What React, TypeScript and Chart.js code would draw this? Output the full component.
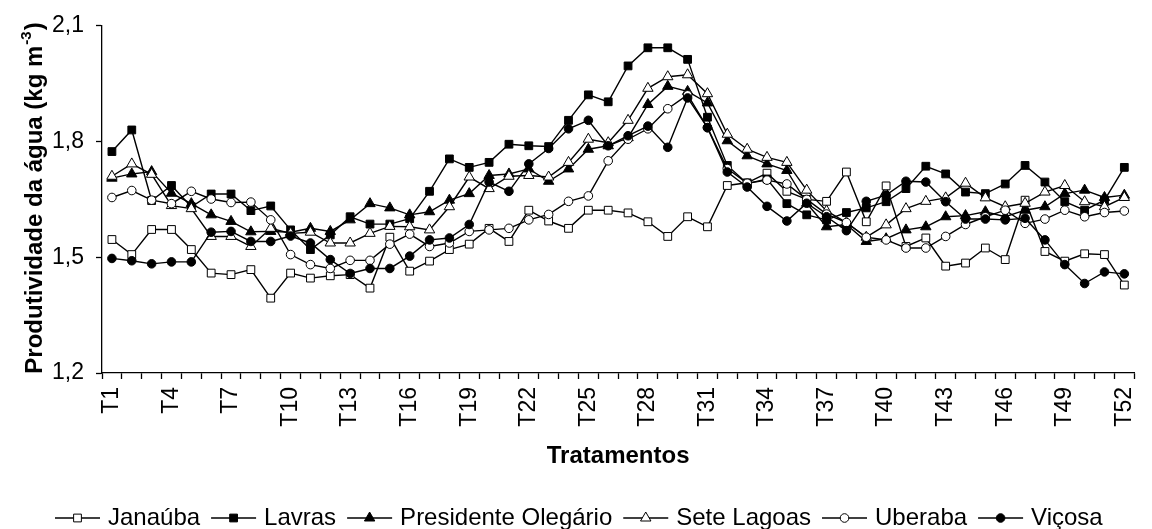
import React, { useEffect, useRef } from "react";
import { Chart, registerables } from "chart.js";
import { drawPoint } from "chart.js/helpers";

Chart.register(...registerables);

const categories = [
  "T1", "T2", "T3", "T4", "T5", "T6", "T7", "T8", "T9", "T10", "T11", "T12", "T13",
  "T14", "T15", "T16", "T17", "T18", "T19", "T20", "T21", "T22", "T23", "T24", "T25", "T26",
  "T27", "T28", "T29", "T30", "T31", "T32", "T33", "T34", "T35", "T36", "T37", "T38", "T39",
  "T40", "T41", "T42", "T43", "T44", "T45", "T46", "T47", "T48", "T49", "T50", "T51", "T52",
];

const xTickLabels = [
  "T1", "T4", "T7", "T10", "T13", "T16", "T19", "T22", "T25", "T28", "T31", "T34", "T37",
  "T40", "T43", "T46", "T49", "T52",
];

const yTicks = [1.2, 1.5, 1.8, 2.1];

const seriesNames = ["Janaúba", "Lavras", "Presidente Olegário", "Sete Lagoas", "Uberaba", "Viçosa"];

const janauba = [
  1.546, 1.507, 1.572, 1.572, 1.520, 1.459, 1.455, 1.468, 1.394, 1.459, 1.446, 1.452, 1.455,
  1.420, 1.552, 1.464, 1.490, 1.520, 1.534, 1.575, 1.541, 1.622, 1.594, 1.575, 1.622, 1.622,
  1.615, 1.592, 1.554, 1.605, 1.579, 1.686, 1.693, 1.718, 1.671, 1.650, 1.645, 1.721, 1.592,
  1.685, 1.528, 1.550, 1.477, 1.485, 1.524, 1.494, 1.648, 1.515, 1.490, 1.509, 1.507, 1.428,
];

const lavras = [
  1.774, 1.830, 1.647, 1.686, 1.631, 1.664, 1.664, 1.621, 1.633, 1.571, 1.520, 1.558, 1.605,
  1.586, 1.586, 1.600, 1.671, 1.755, 1.733, 1.746, 1.793, 1.789, 1.787, 1.855, 1.921, 1.903,
  1.996, 2.043, 2.043, 2.013, 1.863, 1.738, 1.691, 1.703, 1.639, 1.610, 1.597, 1.616, 1.628,
  1.644, 1.678, 1.736, 1.716, 1.669, 1.665, 1.690, 1.738, 1.695, 1.644, 1.622, 1.648, 1.733,
];

const presidenteOlegario = [
  1.705, 1.716, 1.722, 1.666, 1.639, 1.610, 1.593, 1.566, 1.567, 1.565, 1.575, 1.567, 1.597,
  1.639, 1.628, 1.610, 1.618, 1.648, 1.665, 1.712, 1.716, 1.729, 1.697, 1.729, 1.780, 1.789,
  1.810, 1.896, 1.943, 1.930, 1.900, 1.802, 1.763, 1.742, 1.725, 1.640, 1.579, 1.585, 1.541,
  1.548, 1.571, 1.579, 1.605, 1.608, 1.618, 1.605, 1.622, 1.631, 1.665, 1.674, 1.655, 1.661,
];

const seteLagoas = [
  1.710, 1.742, 1.715, 1.634, 1.626, 1.554, 1.554, 1.528, 1.575, 1.562, 1.565, 1.537, 1.537,
  1.562, 1.580, 1.579, 1.571, 1.631, 1.708, 1.678, 1.710, 1.712, 1.708, 1.746, 1.806, 1.797,
  1.855, 1.938, 1.968, 1.973, 1.924, 1.819, 1.780, 1.759, 1.746, 1.674, 1.620, 1.590, 1.552,
  1.584, 1.626, 1.645, 1.654, 1.692, 1.654, 1.631, 1.640, 1.669, 1.686, 1.644, 1.631, 1.655,
];

const uberaba = [
  1.655, 1.673, 1.648, 1.639, 1.671, 1.651, 1.642, 1.643, 1.597, 1.507, 1.481, 1.471, 1.492,
  1.492, 1.534, 1.560, 1.528, 1.537, 1.567, 1.571, 1.575, 1.597, 1.611, 1.645, 1.659, 1.750,
  1.806, 1.833, 1.885, 1.921, 1.836, 1.730, 1.692, 1.700, 1.690, 1.650, 1.612, 1.590, 1.552,
  1.545, 1.524, 1.524, 1.554, 1.585, 1.605, 1.622, 1.588, 1.599, 1.622, 1.605, 1.616, 1.620,
];

const vicosa = [
  1.497, 1.491, 1.483, 1.488, 1.488, 1.565, 1.567, 1.541, 1.541, 1.555, 1.537, 1.494, 1.458,
  1.471, 1.471, 1.503, 1.545, 1.550, 1.585, 1.695, 1.671, 1.742, 1.782, 1.833, 1.855, 1.789,
  1.815, 1.840, 1.785, 1.913, 1.836, 1.721, 1.682, 1.632, 1.594, 1.640, 1.605, 1.569, 1.645,
  1.661, 1.697, 1.695, 1.644, 1.599, 1.599, 1.597, 1.601, 1.545, 1.481, 1.432, 1.462, 1.457,
];

const seriesValues = [janauba, lavras, presidenteOlegario, seteLagoas, uberaba, vicosa];

const FONT = "'Liberation Sans', Arial, Helvetica, sans-serif";

const markerStyles = [
  { pointStyle: "rect", fill: "#ffffff", radius: 5.5 },
  { pointStyle: "rect", fill: "#000000", radius: 5.5 },
  { pointStyle: "triangle", fill: "#000000", radius: 6 },
  { pointStyle: "triangle", fill: "#ffffff", radius: 6 },
  { pointStyle: "circle", fill: "#ffffff", radius: 4.3 },
  { pointStyle: "circle", fill: "#000000", radius: 4.3 },
];

const yTitlePlugin = {
  id: "yTitleSup",
  afterDraw(chart: any) {
    const { ctx } = chart;
    const main = "Produtividade da água (kg m";
    const sup = "-3";
    const close = ")";
    ctx.save();
    ctx.fillStyle = "#000";
    ctx.textBaseline = "alphabetic";
    ctx.textAlign = "left";
    const mainFont = `bold 24px ${FONT}`;
    const supFont = `bold 15px ${FONT}`;
    ctx.font = mainFont;
    const w1 = ctx.measureText(main).width;
    const w3 = ctx.measureText(close).width;
    ctx.font = supFont;
    const w2 = ctx.measureText(sup).width;
    const total = w1 + w2 + w3 + 2;
    const cy = 198;
    ctx.translate(42, cy);
    ctx.rotate(-Math.PI / 2);
    let x = -total / 2;
    ctx.font = mainFont;
    ctx.fillText(main, x, 0);
    x += w1 + 1;
    ctx.font = supFont;
    ctx.fillText(sup, x, -11);
    x += w2 + 1;
    ctx.font = mainFont;
    ctx.fillText(close, x, 0);
    ctx.restore();
  },
};

const legendPlugin = {
  id: "lineMarkerLegend",
  afterDraw(chart: any) {
    const ctx = chart.ctx;
    ctx.save();
    ctx.font = `24px ${FONT}`;
    const lineLen = 45;
    const gapText = 8;
    const gapItem = 11;
    const y = 518;
    let x = 55;
    seriesNames.forEach((name, i) => {
      const m = markerStyles[i];
      ctx.strokeStyle = "#000";
      ctx.lineWidth = 1.3;
      ctx.beginPath();
      ctx.moveTo(x, y);
      ctx.lineTo(x + lineLen, y);
      ctx.stroke();
      ctx.fillStyle = m.fill;
      ctx.strokeStyle = "#000";
      ctx.lineWidth = 1;
      drawPoint(ctx, { pointStyle: m.pointStyle, radius: m.radius, rotation: 0, borderWidth: 1 } as any, x + lineLen / 2, y);
      ctx.fillStyle = "#000";
      ctx.textBaseline = "middle";
      ctx.textAlign = "left";
      ctx.fillText(name, x + lineLen + gapText, y);
      x += lineLen + gapText + ctx.measureText(name).width + gapItem;
    });
    ctx.restore();
  },
};

export default function App() {
  const canvasRef = useRef<HTMLCanvasElement | null>(null);

  useEffect(() => {
    const canvas = canvasRef.current;
    if (!canvas) return;
    Chart.defaults.font.family = FONT;
    Chart.defaults.color = "#000";

    const datasets = seriesNames.map((name, i) => ({
      label: name,
      data: seriesValues[i],
      borderColor: "#000",
      borderWidth: 1.4,
      pointStyle: markerStyles[i].pointStyle,
      pointRadius: markerStyles[i].radius,
      pointBackgroundColor: markerStyles[i].fill,
      pointBorderColor: "#000",
      pointBorderWidth: 1,
      tension: 0,
      fill: false,
      order: seriesNames.length - i,
    }));

    const chart = new Chart(canvas, {
      type: "line",
      data: { labels: categories, datasets },
      options: {
        responsive: false,
        animation: false,
        events: [],
        layout: { padding: { top: 22, right: 3, bottom: 0, left: 0 } },
        plugins: {
          legend: { display: false },
          tooltip: { enabled: false },
        },
        scales: {
          x: {
            type: "category",
            offset: true,
            grid: {
              offset: true,
              drawOnChartArea: false,
              drawTicks: true,
              tickLength: 6,
              color: "#000",
              tickColor: "#000",
              tickWidth: 1.3,
            },
            border: { display: true, color: "#000", width: 1.3 },
            ticks: {
              autoSkip: false,
              maxRotation: 90,
              minRotation: 90,
              padding: 8,
              color: "#000",
              font: { size: 23, family: FONT },
              callback: (_v: any, index: number) =>
                xTickLabels.includes(categories[index]) ? categories[index] : "",
            },
            title: {
              display: true,
              text: "Tratamentos",
              color: "#000",
              font: { size: 24, weight: "bold", family: FONT },
              padding: { top: 0, bottom: 58 },
            },
            afterFit: (scale: any) => {
              scale.height = 156;
            },
          },
          y: {
            min: 1.2,
            max: 2.1,
            grid: {
              drawOnChartArea: false,
              drawTicks: true,
              tickLength: 6,
              color: "#000",
              tickColor: "#000",
              tickWidth: 1.3,
            },
            border: { display: true, color: "#000", width: 1.3 },
            ticks: {
              padding: 12,
              color: "#000",
              font: { size: 23, family: FONT },
              callback: (v: any) => Number(v).toFixed(1).replace(".", ","),
            },
            afterBuildTicks: (scale: any) => {
              scale.ticks = yTicks.map((v) => ({ value: v }));
            },
            afterFit: (scale: any) => {
              scale.width = 102;
            },
          },
        },
      },
      plugins: [yTitlePlugin, legendPlugin],
    });

    return () => chart.destroy();
  }, []);

  return (
    <div
      style={{
        position: "fixed",
        left: 0,
        top: 0,
        width: 1152,
        height: 529,
        overflow: "hidden",
        background: "#fff",
      }}
    >
      <canvas ref={canvasRef} width={1160} height={529} style={{ width: 1160, height: 529, display: "block" }} />
    </div>
  );
}
